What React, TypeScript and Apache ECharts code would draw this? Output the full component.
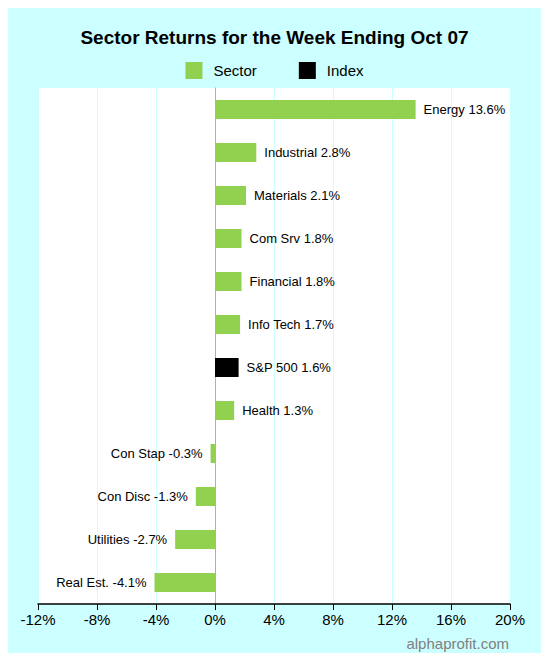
import { useEffect, useRef } from 'react'
import * as echarts from 'echarts'

const CATEGORIES = [
  'Energy',
  'Industrial',
  'Materials',
  'Com Srv',
  'Financial',
  'Info Tech',
  'S&P 500',
  'Health',
  'Con Stap',
  'Con Disc',
  'Utilities',
  'Real Est.',
]
const RETURNS = [13.6, 2.8, 2.1, 1.8, 1.8, 1.7, 1.6, 1.3, -0.3, -1.3, -2.7, -4.1]
const INDEX_NAME = 'S&P 500'
const X_TICKS = { min: -12, max: 20, interval: 4 }

const GREEN = '#92d050'
const FONT = 'Arial, "Liberation Sans", sans-serif'

function barItem(i: number) {
  const v = RETURNS[i]
  return {
    value: v,
    label: {
      show: true,
      position: v >= 0 ? 'right' : 'left',
      distance: 8,
      formatter: `${CATEGORIES[i]} ${v.toFixed(1)}%`,
      color: '#000',
      fontSize: 13,
      fontFamily: FONT,
    },
  }
}

export default function App() {
  const ref = useRef<HTMLDivElement>(null)

  useEffect(() => {
    if (!ref.current) return
    const chart = echarts.init(ref.current, undefined, { renderer: 'svg' })
    // reverse so the first category sits at the top
    const order = CATEGORIES.map((_, i) => i).reverse()
    chart.setOption({
      animation: false,
      backgroundColor: '#ccffff',
      title: {
        text: 'Sector Returns for the Week Ending Oct 07',
        left: 'center',
        top: 23,
        textStyle: { fontSize: 19, fontWeight: 'bold', color: '#000', fontFamily: FONT },
      },
      legend: {
        top: 57,
        left: 'center',
        icon: 'rect',
        itemWidth: 17,
        itemHeight: 17,
        itemGap: 42,
        textStyle: { fontSize: 15, color: '#000', fontFamily: FONT, padding: [0, 0, 0, 6] },
        data: ['Sector', 'Index'],
      },
      grid: {
        left: 38,
        right: 39,
        top: 88,
        bottom: 57,
        show: true,
        backgroundColor: '#ffffff',
        borderWidth: 0,
      },
      xAxis: {
        type: 'value',
        min: X_TICKS.min,
        max: X_TICKS.max,
        interval: X_TICKS.interval,
        axisLine: { show: true, onZero: false, lineStyle: { color: '#000', width: 1.5 } },
        axisTick: { show: true, length: 6, lineStyle: { color: '#000' } },
        axisLabel: {
          formatter: '{value}%',
          color: '#000',
          fontSize: 15,
          fontFamily: FONT,
          margin: 8,
        },
        splitLine: { show: true, lineStyle: { color: '#ccffff', width: 1 } },
      },
      yAxis: {
        type: 'category',
        data: order.map((i) => CATEGORIES[i]),
        axisLine: { show: true, onZero: true, lineStyle: { color: GREEN, width: 1 } },
        axisTick: { show: false },
        axisLabel: { show: false },
        splitLine: { show: false },
      },
      series: [
        {
          name: 'Sector',
          type: 'bar',
          barWidth: 19,
          barGap: '-100%',
          itemStyle: { color: GREEN },
          data: order.map((i) => (CATEGORIES[i] === INDEX_NAME ? null : barItem(i))),
        },
        {
          name: 'Index',
          type: 'bar',
          barWidth: 19,
          barGap: '-100%',
          itemStyle: { color: '#000' },
          data: order.map((i) => (CATEGORIES[i] === INDEX_NAME ? barItem(i) : null)),
        },
      ],
      graphic: [
        {
          type: 'text',
          right: 40,
          top: 636,
          style: {
            text: 'alphaprofit.com',
            fill: '#808080',
            fontSize: 15,
            fontFamily: FONT,
          },
        },
      ],
    })
    return () => chart.dispose()
  }, [])

  return <div ref={ref} style={{ width: 549, height: 661, margin: -8 }} />
}
